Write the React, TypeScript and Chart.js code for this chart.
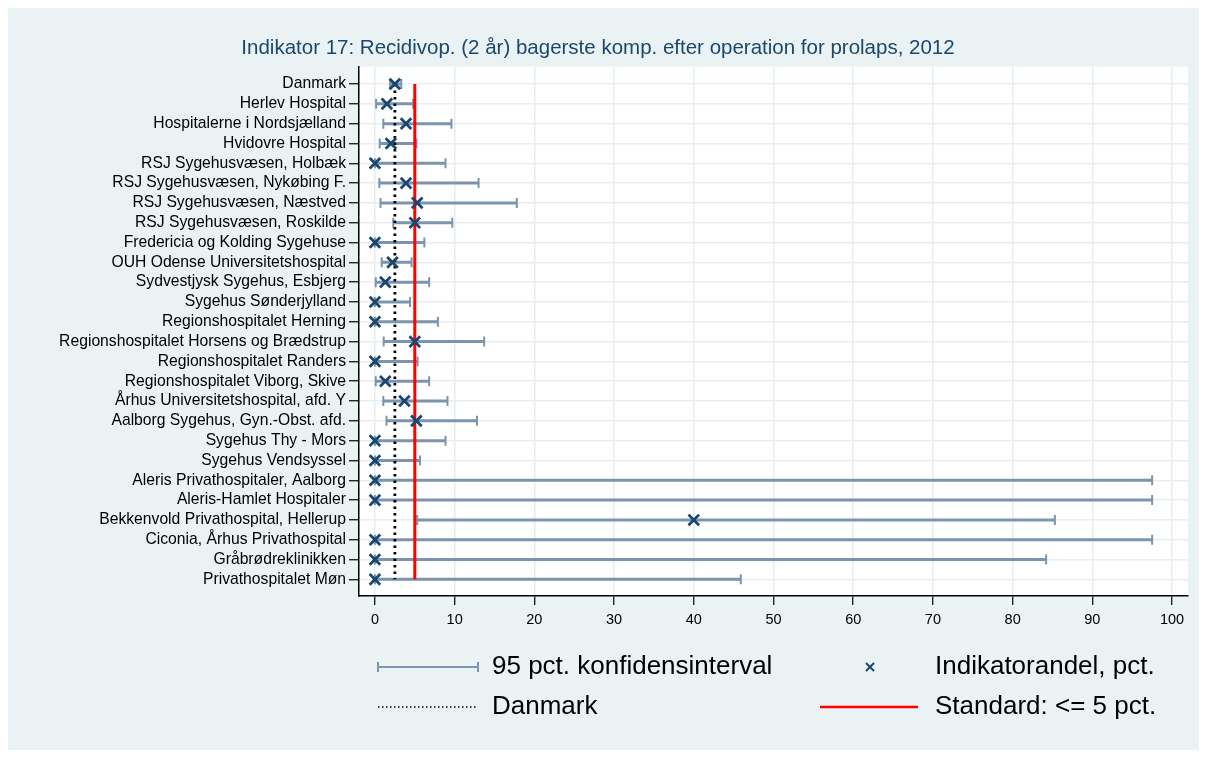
import React, { useEffect, useRef } from "react";
import { Chart, registerables } from "chart.js";

Chart.register(...registerables);

const hospitals: string[] = [
  "Danmark",
  "Herlev Hospital",
  "Hospitalerne i Nordsjælland",
  "Hvidovre Hospital",
  "RSJ Sygehusvæsen, Holbæk",
  "RSJ Sygehusvæsen, Nykøbing F.",
  "RSJ Sygehusvæsen, Næstved",
  "RSJ Sygehusvæsen, Roskilde",
  "Fredericia og Kolding Sygehuse",
  "OUH Odense Universitetshospital",
  "Sydvestjysk Sygehus, Esbjerg",
  "Sygehus Sønderjylland",
  "Regionshospitalet Herning",
  "Regionshospitalet Horsens og Brædstrup",
  "Regionshospitalet Randers",
  "Regionshospitalet Viborg, Skive",
  "Århus Universitetshospital, afd. Y",
  "Aalborg Sygehus, Gyn.-Obst. afd.",
  "Sygehus Thy - Mors",
  "Sygehus Vendsyssel",
  "Aleris Privathospitaler, Aalborg",
  "Aleris-Hamlet Hospitaler",
  "Bekkenvold Privathospital, Hellerup",
  "Ciconia, Århus Privathospital",
  "Gråbrødreklinikken",
  "Privathospitalet Møn",
];

const rates: number[] = [
  2.5, 1.5, 3.9, 2.0, 0, 3.9, 5.3, 5.0, 0, 2.2, 1.3, 0, 0, 5.0, 0, 1.3, 3.7,
  5.2, 0, 0, 0, 0, 40.0, 0, 0, 0,
];

const ciLower: number[] = [
  1.9, 0.15, 1.05, 0.6, 0, 0.55, 0.7, 2.3, 0, 0.85, 0.1, 0, 0, 1.1, 0, 0.1,
  1.05, 1.45, 0, 0, 0, 0, 5.3, 0, 0, 0,
];

const ciUpper: number[] = [
  3.3, 4.8, 9.6, 5.2, 8.85, 13.0, 17.8, 9.7, 6.2, 4.6, 6.8, 4.4, 7.9, 13.7,
  5.35, 6.8, 9.1, 12.8, 8.85, 5.65, 97.5, 97.5, 85.3, 97.5, 84.2, 45.9,
];

const xTicks: number[] = [0, 10, 20, 30, 40, 50, 60, 70, 80, 90, 100];

const danmarkValue = 2.5;
const standardValue = 5;

const titleText =
  "Indikator 17: Recidivop. (2 år) bagerste komp. efter operation for prolaps, 2012";

const legendLabels = {
  ci: "95 pct. konfidensinterval",
  rate: "Indikatorandel, pct.",
  dk: "Danmark",
  std: "Standard: <= 5 pct.",
};

const FONT = "'Liberation Sans', Arial, Helvetica, sans-serif";
const BG = "#eaf2f3";
const GRID = "#e6eef0";
const CI_COLOR = "#7c94ad";
const MARK_COLOR = "#1a476f";

export default function App() {
  const ref = useRef<HTMLCanvasElement | null>(null);

  useEffect(() => {
    if (!ref.current) return;

    const ciData: any[] = [];
    hospitals.forEach((_, i) => {
      ciData.push({ x: ciLower[i], y: i + 1 });
      ciData.push({ x: ciUpper[i], y: i + 1 });
      ciData.push({ x: null, y: null });
    });
    const markData = rates.map((r, i) => ({ x: r, y: i + 1 }));
    const n = hospitals.length;

    const bgPlugin = {
      id: "bgPlugin",
      beforeDraw(chart: any) {
        const { ctx, chartArea } = chart;
        ctx.save();
        ctx.fillStyle = BG;
        ctx.fillRect(0, 0, chart.width, chart.height);
        ctx.fillStyle = "#ffffff";
        ctx.fillRect(
          chartArea.left,
          chartArea.top,
          chartArea.right - chartArea.left,
          chartArea.bottom - chartArea.top
        );
        ctx.restore();
      },
    };

    const legendPlugin = {
      id: "customLegend",
      afterDraw(chart: any) {
        const ctx = chart.ctx;
        ctx.save();
        const y1 = 659;
        const y2 = 699;
        // CI symbol
        ctx.strokeStyle = CI_COLOR;
        ctx.lineWidth = 2;
        ctx.beginPath();
        ctx.moveTo(370, y1);
        ctx.lineTo(470, y1);
        ctx.moveTo(370, y1 - 5);
        ctx.lineTo(370, y1 + 5);
        ctx.moveTo(470, y1 - 5);
        ctx.lineTo(470, y1 + 5);
        ctx.stroke();
        // marker
        ctx.strokeStyle = MARK_COLOR;
        ctx.lineWidth = 2;
        ctx.beginPath();
        ctx.moveTo(862 - 4, y1 - 4);
        ctx.lineTo(862 + 4, y1 + 4);
        ctx.moveTo(862 - 4, y1 + 4);
        ctx.lineTo(862 + 4, y1 - 4);
        ctx.stroke();
        // dotted
        ctx.strokeStyle = "#000";
        ctx.lineWidth = 1.5;
        ctx.setLineDash([1.5, 2.5]);
        ctx.beginPath();
        ctx.moveTo(370, y2);
        ctx.lineTo(470, y2);
        ctx.stroke();
        ctx.setLineDash([]);
        // red
        ctx.strokeStyle = "#ff0000";
        ctx.lineWidth = 2.5;
        ctx.beginPath();
        ctx.moveTo(812, y2);
        ctx.lineTo(910, y2);
        ctx.stroke();
        // texts
        ctx.fillStyle = "#000";
        ctx.font = `26px ${FONT}`;
        ctx.textBaseline = "middle";
        ctx.textAlign = "left";
        ctx.fillText(legendLabels.ci, 484, y1);
        ctx.fillText(legendLabels.rate, 927, y1);
        ctx.fillText(legendLabels.dk, 484, y2);
        ctx.fillText(legendLabels.std, 927, y2);
        ctx.restore();
      },
    };

    const chart = new Chart(ref.current, {
      type: "scatter",
      data: {
        datasets: [
          {
            label: legendLabels.rate,
            data: markData,
            pointStyle: "crossRot",
            pointRadius: 7.5,
            pointBorderWidth: 2.8,
            pointBorderColor: MARK_COLOR,
            pointBackgroundColor: MARK_COLOR,
            showLine: false,
            order: 0,
          } as any,
          {
            label: legendLabels.std,
            data: [
              { x: standardValue, y: 1 },
              { x: standardValue, y: n },
            ],
            showLine: true,
            borderColor: "#ff0000",
            borderWidth: 3,
            pointRadius: 0,
            order: 1,
          } as any,
          {
            label: legendLabels.dk,
            data: [
              { x: danmarkValue, y: 1 },
              { x: danmarkValue, y: n },
            ],
            showLine: true,
            borderColor: "#000000",
            borderWidth: 2.8,
            borderDash: [2.5, 4],
            pointRadius: 0,
            order: 2,
          } as any,
          {
            label: legendLabels.ci,
            data: ciData,
            showLine: true,
            spanGaps: false,
            borderColor: CI_COLOR,
            borderWidth: 3,
            pointStyle: "line",
            rotation: 90,
            pointRadius: 5,
            pointBorderWidth: 2,
            pointBorderColor: CI_COLOR,
            order: 3,
          } as any,
        ],
      },
      options: {
        responsive: false,
        animation: false,
        devicePixelRatio: 1,
        events: [],
        layout: { padding: { left: 0, right: 11, top: 0, bottom: 114 } },
        plugins: {
          legend: { display: false },
          tooltip: { enabled: false },
          title: {
            display: true,
            text: titleText,
            color: MARK_COLOR,
            font: { family: FONT, size: 20.5, weight: "normal" },
            padding: { top: 28, bottom: 6 },
          },
        },
        scales: {
          x: {
            type: "linear",
            min: -2,
            max: 102,
            afterBuildTicks(scale: any) {
              scale.ticks = xTicks.map((v) => ({ value: v }));
            },
            afterFit(scale: any) {
              scale.height = 40;
            },
            grid: {
              color: GRID,
              lineWidth: 1.5,
              tickColor: "#000",
              tickLength: 9,
              tickWidth: 1.2,
            },
            border: { display: true, color: "#000", width: 1.5 },
            ticks: {
              color: "#000",
              font: { family: FONT, size: 14.5 },
              padding: 6,
              autoSkip: false,
              maxRotation: 0,
            },
          },
          y: {
            type: "linear",
            reverse: true,
            min: 0.12,
            max: 26.84,
            afterBuildTicks(scale: any) {
              scale.ticks = hospitals.map((_, i) => ({ value: i + 1 }));
            },
            afterFit(scale: any) {
              scale.width = 351;
            },
            grid: {
              color: GRID,
              lineWidth: 1.5,
              tickColor: "#000",
              tickLength: 10,
              tickWidth: 1.2,
            },
            border: { display: true, color: "#000", width: 1.5 },
            ticks: {
              color: "#000",
              font: { family: FONT, size: 15.7 },
              padding: 3,
              autoSkip: false,
              callback: (v: any) => hospitals[Math.round(Number(v)) - 1] ?? "",
            },
          },
        },
      } as any,
      plugins: [bgPlugin, legendPlugin],
    });

    return () => chart.destroy();
  }, []);

  return (
    <div style={{ width: 1191, height: 742, position: "relative" }}>
      <canvas ref={ref} width={1191} height={742} style={{ display: "block" }} />
    </div>
  );
}
